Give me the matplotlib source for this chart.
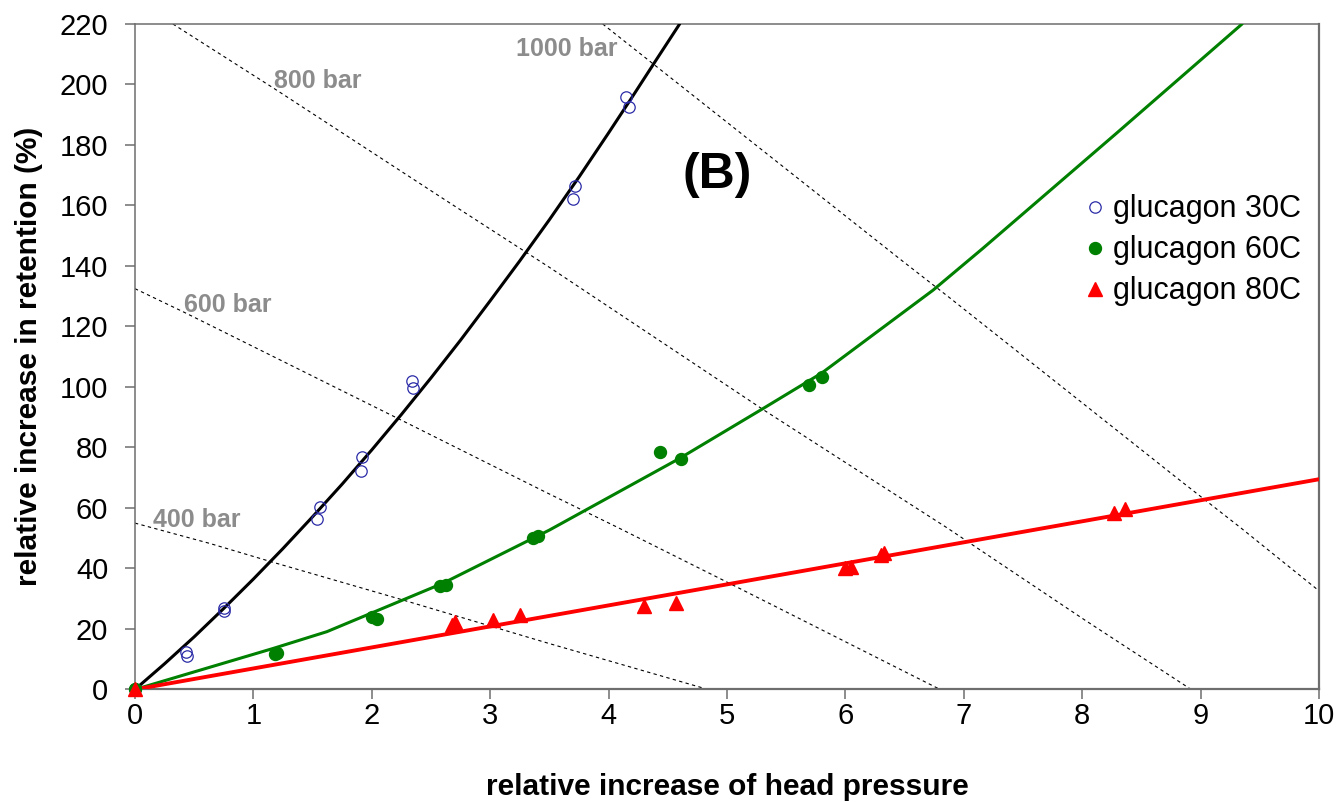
import matplotlib
matplotlib.use("Agg")
import matplotlib.pyplot as plt
from matplotlib.lines import Line2D

plt.rcParams['font.family'] = ['Liberation Sans', 'DejaVu Sans']

# ---- measured points: relative head-pressure increase vs retention increase (%)
p30 = [0, 0, 0.43, 0.44, 0.75, 0.75, 1.54, 1.56, 1.91, 1.92, 2.34, 2.35, 3.70, 3.72, 4.15, 4.17]
r30 = [0, 0, 12.3, 11.2, 27.0, 26.0, 56.3, 60.4, 72.2, 77.0, 102.0, 99.5, 162.0, 166.5, 196.0, 192.5]

p60 = [0, 1.18, 1.20, 2.00, 2.04, 2.58, 2.63, 3.36, 3.40, 4.43, 4.61, 5.69, 5.80]
r60 = [0, 11.8, 12.0, 24.0, 23.3, 34.2, 34.4, 50.2, 50.8, 78.6, 76.3, 100.7, 103.4]

p80 = [0, 2.68, 2.70, 3.02, 3.25, 4.30, 4.57, 6.00, 6.05, 6.30, 6.33, 8.27, 8.36]
r80 = [0, 21.4, 22.3, 23.0, 24.6, 27.6, 28.7, 40.1, 40.6, 44.5, 45.0, 58.2, 59.6]

# ---- trend curves
fit30_x = [0, 0.25, 0.5, 0.75, 1.0, 1.25, 1.5, 1.75, 2.0, 2.25, 2.5, 2.75, 3.0,
           3.25, 3.5, 3.75, 4.0, 4.2, 4.4, 4.6]
fit30_y = [0, 8.5, 17.4, 26.8, 36.5, 46.6, 57.1, 67.9, 79.2, 90.9, 103.0, 115.5,
           128.5, 141.7, 155.3, 169.4, 184.0, 195.9, 208.0, 220.0]
fit60_x = [0, 1.17, 1.62, 2.60, 3.50, 4.60, 5.31, 5.80, 6.74, 7.16, 8.29, 9.35]
fit60_y = [0, 13.6, 19.1, 35.1, 52.7, 76.4, 93.0, 104.6, 132.0, 145.8, 183.9, 220.0]
fit80_x = [0, 10]
fit80_y = [0, 69.5]

# ---- constant column-pressure lines
iso400_x = [0, 0.63, 1.17, 2.21, 3.48, 4.84]
iso400_y = [55.0, 48.3, 42.0, 30.2, 15.4, 0]
iso600_x = [0, 0.41, 2.21, 3.48, 4.07, 5.0, 6.80]
iso600_y = [132.5, 124.8, 89.8, 65.0, 53.7, 35.5, 0]
iso800_x = [0.32, 1.17, 2.66, 3.51, 5.31, 6.86, 8.02, 8.92]
iso800_y = [220, 198.8, 160.8, 139.3, 92.4, 53.4, 23.0, 0]
iso1000_x = [3.95, 6.47, 6.88, 8.82, 9.34, 10.0]
iso1000_y = [220, 142.0, 129.5, 69.3, 53.4, 32.6]

iso_labels = ["400 bar", "600 bar", "800 bar", "1000 bar"]
iso_label_x = [0.154, 0.41, 1.17, 3.22]
iso_label_y = [53.8, 124.9, 198.7, 209.4]

x_ticks = list(range(0, 11))
y_ticks = list(range(0, 221, 20))

BLUE = '#2b2ba8'
GREEN = '#008000'
RED = '#ff0000'
AXIS_GREY = '#6e6e6e'

fig = plt.figure(figsize=(13.39, 8.02), dpi=100)
ax = fig.add_axes([0.1008, 0.1403, 0.8843, 0.8298])

# pressure isobars
for xs, ys in [(iso400_x, iso400_y), (iso600_x, iso600_y),
               (iso800_x, iso800_y), (iso1000_x, iso1000_y)]:
    ax.plot(xs, ys, color='black', lw=0.8, ls=(0, (3, 3)), zorder=1)

for lbl, lx, ly in zip(iso_labels, iso_label_x, iso_label_y):
    ax.text(lx, ly, lbl, color='#8c8c8c', fontsize=18, fontweight='bold',
            ha='left', va='baseline', zorder=2)

# trend curves
ax.plot(fit30_x, fit30_y, color='black', lw=2.2, zorder=3, solid_capstyle='round')
ax.plot(fit60_x, fit60_y, color=GREEN, lw=2.2, zorder=3, solid_capstyle='round')
ax.plot(fit80_x, fit80_y, color=RED, lw=2.8, zorder=3)

# measured points
ax.plot(p30, r30, ls='none', marker='o', ms=8.2, mfc='none', mec=BLUE, mew=0.9,
        zorder=4, clip_on=False)
ax.plot(p60, r60, ls='none', marker='o', ms=8.6, mfc=GREEN, mec=GREEN,
        zorder=4, clip_on=False)
ax.plot(p80, r80, ls='none', marker='^', ms=10, mfc=RED, mec=RED,
        zorder=5, clip_on=False)

ax.text(4.92, 165.7, "(B)", fontsize=36, fontweight='bold', ha='center',
        va='baseline', zorder=6)

ax.set_xlim(0, 10)
ax.set_ylim(0, 220)
ax.set_xticks(x_ticks)
ax.set_yticks(y_ticks)
ax.tick_params(axis='both', direction='out', length=7.2, width=1.1,
               color=AXIS_GREY, labelsize=21, labelcolor='black')
ax.tick_params(axis='y', pad=12)
ax.tick_params(axis='x', pad=1.5)

for side in ['left', 'top']:
    ax.spines[side].set_color(AXIS_GREY)
    ax.spines[side].set_linewidth(1.1)
for side in ['bottom', 'right']:
    ax.spines[side].set_color(AXIS_GREY)
    ax.spines[side].set_linewidth(1.6)

ax.set_xlabel("relative increase of head pressure", fontsize=21.5,
              fontweight='bold')
ax.set_ylabel("relative increase in retention (%)", fontsize=21.5,
              fontweight='bold')
ax.xaxis.set_label_coords(0.5, -0.125)
ax.yaxis.set_label_coords(-0.078, 0.5)

handles = [
    Line2D([], [], ls='none', marker='o', ms=8.2, mfc='none', mec=BLUE, mew=0.9),
    Line2D([], [], ls='none', marker='o', ms=8.6, mfc=GREEN, mec=GREEN),
    Line2D([], [], ls='none', marker='^', ms=10, mfc=RED, mec=RED),
]
ax.legend(handles, ["glucagon 30C", "glucagon 60C", "glucagon 80C"],
          loc='center left', bbox_to_anchor=(0.803, 0.660), frameon=False,
          fontsize=22, handlelength=0.6, handletextpad=0.3, labelspacing=0.36,
          borderpad=0, borderaxespad=0, numpoints=1)

fig.savefig("out.png", dpi=100, facecolor='white')
